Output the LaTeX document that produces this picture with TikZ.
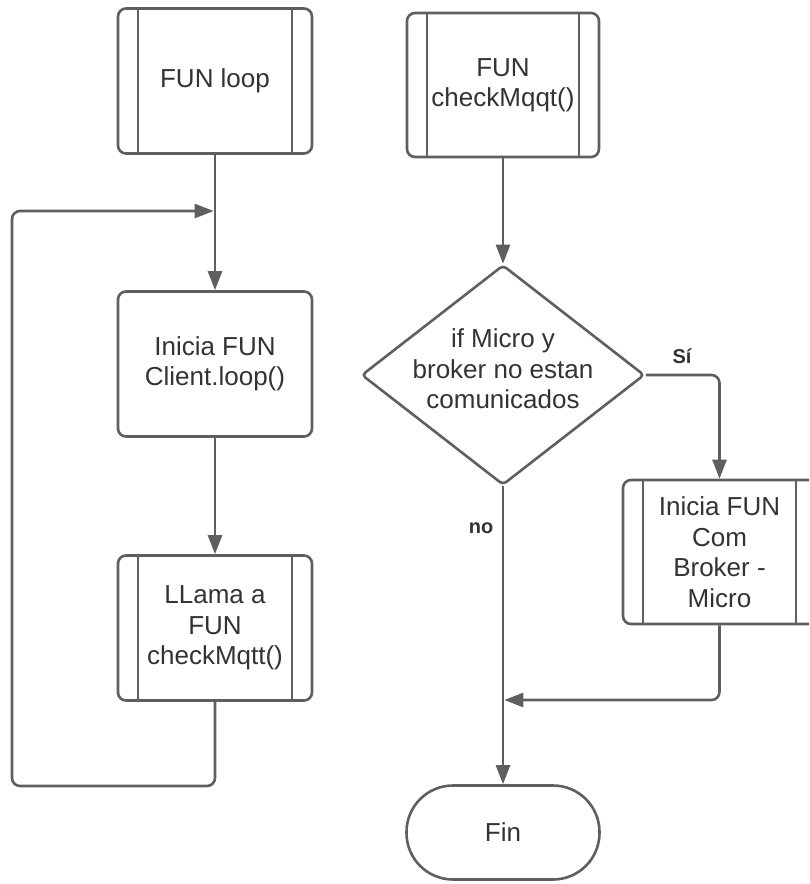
\documentclass[tikz,border=0pt]{standalone}
\usepackage{fontspec}
\setmainfont{Liberation Sans}
\usetikzlibrary{shapes.geometric,arrows.meta}
\definecolor{edge}{HTML}{5F5F5F}
\definecolor{ink}{HTML}{333333}

\begin{document}
\begin{tikzpicture}[x=1pt,y=-1pt,
  every node/.style={font=\fontsize{26}{30.5}\selectfont, text=ink, align=center},
  base/.style={draw=edge, line width=2.6pt, rounded corners=8pt, inner sep=0pt, fill=white},
  procbox/.style={base, minimum width=194pt, minimum height=145pt},
  subproc/.style={procbox, path picture={
    \draw[edge, line width=2.6pt]
      ([xshift=20pt]path picture bounding box.north west) --
      ([xshift=20pt]path picture bounding box.south west);
    \draw[edge, line width=2.6pt]
      ([xshift=-20pt]path picture bounding box.north east) --
      ([xshift=-20pt]path picture bounding box.south east);}},
  decision/.style={diamond, draw=edge, line width=2.6pt, inner sep=0pt,
    minimum width=283pt, minimum height=220pt, rounded corners=4pt},
  terminal/.style={base, rounded corners=46.5pt, minimum width=193pt, minimum height=94pt},
  conn/.style={draw=edge, line width=2.6pt, rounded corners=8pt,
    -{Triangle[length=19pt,width=14pt]}},
  tag/.style={font=\fontsize{20}{24}\selectfont\bfseries, text=ink}]

\useasboundingbox (0,0) rectangle (809,884);
\clip (0,0) rectangle (809,884);

% left column: main loop
\node[subproc] (loop) at (215,81) {FUN loop};
\node[procbox] (client) at (215,364) {Inicia FUN\\Client.loop()};
\node[subproc] (llama) at (215,628) {LLama a\\FUN\\checkMqtt()};

% right column: broker check
\node[subproc, minimum width=192pt, minimum height=144pt] (check) at (503,85) {FUN\\checkMqqt()};
\node[decision] (dec) at (503,375) {};
\node at (503,369) {if Micro y\\broker no estan\\comunicados};
\node[subproc, minimum width=193pt, minimum height=144pt] (com) at (719.5,552) {Inicia FUN\\Com\\Broker -\\Micro};
\node[terminal] (fin) at (503,832.5) {Fin};

% junction points on the vertical lines
\coordinate (lb) at (12,786);
\coordinate (j1) at (213.7,211);
\coordinate (j2) at (504.3,700);

% connectors
\draw[conn] (loop.south) -- (client.north);
\draw[conn] (client.south) -- (llama.north);
\draw[conn] (llama.south) |- (lb) |- (j1);

\draw[conn] (check.south) -- (dec.north);
\draw[conn] (dec.east) -| (com.north);
\draw[conn] (dec.south) -- (fin.north);
\draw[conn] (com.south) |- (j2);

% branch labels
\node[tag] (si) at (682,356) {Sí};
\node[tag] (no) at (481,528) {no};

\end{tikzpicture}
\end{document}
